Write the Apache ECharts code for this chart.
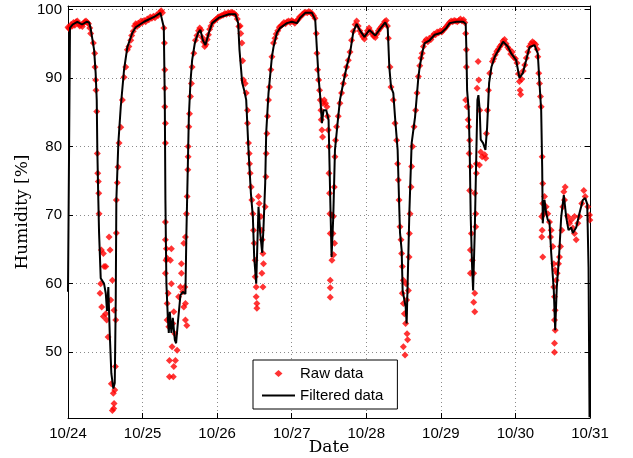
<!DOCTYPE html>
<html><head><meta charset="utf-8">
<script src="https://cdn.jsdelivr.net/npm/echarts@6/dist/echarts.min.js"></script>
<style>html,body{margin:0;padding:0;background:#fff}#c{width:633px;height:458px}</style>
</head><body><div id="c"></div>
<script>
// x values are hours since 10/24 00:00
const dateLabels = ['10/24','10/25','10/26','10/27','10/28','10/29','10/30','10/31'];
const yTickLabels = ['50','60','70','80','90','100'];

const rawData = [
[0,97.4],[0.3,97.2],[0.7,97.5],[1,97.8],[1.4,97.6],[1.8,98.1],[2.2,97.7],[2.6,98.2],[3,98.3],[3.4,97.9],[3.8,97.6],[4.2,97.8],[4.6,97.5],[5,98],[5.4,98.2],[5.8,98.3],[6.2,98.1],[6.6,97.9],[7,97.3],
[7.31,96.5],[8.16,95.1],[8.6,93.6],[8.7,91.6],[8.92,89.7],[9.02,88.2],[9.25,85.1],[9.44,79],[9.57,76.1],[9.76,74.9],[9.89,73.2],[9.99,70.2],
[10.74,64.9],[11.38,64.4],[13.21,66.8],[13.53,64.9],[11.6,62.5],[10.53,60],[12.15,62.5],[10.31,58.6],[10.85,56.6],[12.15,55.6],[11.38,55.2],[12.46,54.7],[13.75,57.6],[14.28,60.5],[15.37,54.7],[14.82,56.1],[12.89,52.2],[13.95,45.4],[14.59,44],[14.82,42.5],[14.28,41.5],[15.05,44.5],[15.24,47.9],[14.7,41.8],
[15.56,67.4],[15.56,72.2],[15.88,74.7],[16.1,77],[16.43,80.5],[16.98,82.8],[17.5,86.8],[18.04,90.1],[18.58,91.6],[19.1,94.1],[19.6,94.6],[20.19,95.5],
[20.5,96.2],[21,96.8],[21.4,97.6],[21.8,97.9],[22.2,97.5],[22.6,98],[23,97.8],[23.5,98.3],[24,98.1],[24.5,98.4],[25,98.2],[25.5,98.6],[26,98.5],[26.5,98.9],[27,98.7],[27.5,99],[28,98.8],[28.5,99.2],[29,99.1],[29.5,99.6],[30,99.8],[30.4,99.5],
[30.83,97.3],[31.03,95.1],[31.15,91.2],[31.15,88.5],[31.15,85.8],[31.35,83.4],[31.35,80.5],[31.35,69],[31.35,66.4],[31.67,65.1],[31.9,63.7],[31.35,61.5],[33.28,65.1],[32.96,63.4],[33.28,60],[32.22,58.6],[31.9,57.1],[31.9,54.7],[32.44,53.7],[34.05,55.9],[33.73,54.2],[34.38,52.7],[33.5,50.8],[32.64,48.8],[35.12,50.3],[34.57,48.8],[34.05,47.9],[32.64,46.4],[33.9,46.4],[35.6,58.1],[36.18,59.5],[36.5,61.5],[36.95,58.8],[37.6,59.5],[37.8,57.1],[37.27,56.6],[37.8,54.7],[38.24,53.9],[37.27,65.9],[37.8,66.8],[36.5,62.9],[31.57,63.4],
[38.11,70.2],[38.34,72.7],[38.56,76.6],[38.66,78.5],[38.66,80],[38.89,82.9],[39.1,84.8],[39.4,87.3],[39.73,89.2],[39.95,91.6],[40.5,93.6],[41.01,95.5],
[41.5,96.2],[42,96.9],[42.4,97.3],[42.8,97],[43.2,95.9],[43.6,95.3],[44,94.6],[44.4,94.9],[44.8,95.6],[45.2,96.3],[45.6,97.1],[46,97.6],[46.5,98.1],[47,98.3],[47.5,98.5],[48,98.7],[48.5,98.9],[49,99],[49.5,99.1],[50,99.2],[50.5,99.4],[51,99.3],[51.5,99.5],[52,99.4],[52.5,99.6],[53,99.5],[53.5,99.4],[54,99.2],[54.5,98.6],[55,97.5],
[55.4,97.6],[55.6,96.5],[55.96,95.1],[56.2,92.5],[56.48,89.7],[57.02,89.2],[57.35,87.8],[57.77,85.3],[57.77,83.4],[58.09,80.5],[58.31,79],[58.41,77.5],[58.63,76.1],[58.96,74.1],[59.18,72.2],[59.5,70.2],[59.7,67.8],[59.92,65.9],[60.24,63.4],[60.24,61],[60.57,59.5],[60.57,58.1],[60.79,57.1],[60.79,56.4],[61.31,72.7],[61.53,71.7],[62.08,69.8],[62.28,67.8],[62.5,66.4],[62.73,64.4],[62.92,62.9],[62.73,59.5],[62.4,61.5],
[63.47,71.2],[63.69,75.6],[63.79,79],[64.01,81.9],[64.2,84.4],[64.53,86.8],[64.85,88.7],[65.3,91.2],[65.63,93.1],[66.14,95.1],
[66.6,95.8],[67,96.4],[67.5,96.9],[68,97.4],[68.5,97.6],[69,97.8],[69.5,98.1],[70,97.9],[70.5,98.2],[71,98.3],[71.5,98.1],[72,98.4],[72.5,98.2],[73,98],[73.5,98.3],[74,98.5],[74.5,98.9],[75,99],[75.5,99.3],[76,99.5],[76.5,99.6],[77,99.5],[77.5,99.7],[78,99.6],[78.5,99.4],[79,99.1],[79.5,98.7],
[79.9,96.5],[80.12,93.6],[80.33,91.2],[80.64,89.7],[80.97,88.2],[81.19,86.8],[81.4,85.3],[81.5,83.9],[81.73,82.4],[81.93,81.4],[82.04,86.3],[82.47,86.8],[82.9,86.3],[83.34,85.8],[83.54,84.4],[83.76,82.4],[83.99,80],[83.99,76.1],[84.18,73.2],[84.31,70.2],[84.41,67.3],[84.95,70],[85.27,67.3],[85.8,65.9],[85.48,64.2],[84.95,63.4],[84.41,60.5],[84.41,59.4],[84.41,58],
[85.37,69.8],[85.7,74.1],[85.92,78.5],[86.12,80.9],[86.44,82.9],[86.98,84.4],[87.53,86.3],[88.05,87.8],[88.6,89.2],[89.14,90.4],[89.66,91.6],[90.21,92.6],[90.75,93.8],[91.27,95.5],[91.82,96.8],
[92.4,97.8],[92.9,98.3],[93.4,97.6],[93.9,96.9],[94.4,96.4],[94.9,96],[95.4,95.7],[95.9,96.3],[96.4,96.9],[96.9,97.3],[97.4,96.8],[97.9,96.4],[98.4,96.1],[98.9,95.9],[99.4,96.4],[99.9,96.9],[100.4,97.2],[100.9,97.5],[101.4,97.8],[101.9,98.2],[102.4,98.4],[102.8,97.6],[103.1,95.8],
[103.63,91.6],[103.96,88.7],[104.7,86.8],[105.25,83.4],[105.77,80.9],[106.09,77.5],[106.31,75.1],[106.54,72.2],[106.86,68.3],[107.18,66.4],[107.38,64.4],[107.6,62.5],[107.93,60.5],[107.6,58.6],[107.93,57.1],[108.25,55.6],[108.8,60],[108.99,57.6],[108.67,54.2],[109.12,52.7],[109.31,51.8],[108.47,49.6],[107.93,50.8],
[109.54,59],[109.76,63.9],[109.86,67.3],[110.08,70.2],[110.41,74.1],[110.6,77.1],[110.92,80],[111.37,82.9],[111.89,85.3],[112.34,87.8],[112.76,90.2],
[113.2,91.8],[113.6,92.9],[114,93.6],[114.4,94.6],[114.8,95.3],[115.3,95.6],[115.8,95.3],[116.3,95.8],[116.8,95.6],[117.3,96.1],[117.8,96.4],[118.3,96.3],[118.8,96.7],[119.3,96.6],[119.8,96.9],[120.3,96.7],[120.8,97],[121.3,97.2],[121.8,97.5],[122.3,97.8],[122.8,98.1],[123.3,98.3],[123.8,98.2],[124.3,98.4],[124.8,98.3],[125.3,98.2],[125.8,98.4],[126.3,98.6],[126.8,98.3],[127.3,98.5],[127.7,98.1],
[128,96.5],[128.22,94.1],[128.22,91.6],[128,86.8],[128.45,85.8],[128.77,83.9],[128.96,82.9],[129.28,80.9],[129.09,79],[129.51,77.1],[129.28,73.6],[130.9,73.2],[131.22,70.2],[129.83,67.3],[129.51,64.9],[130.15,63.4],[129.51,61.5],[130.57,61.5],[130.9,58.6],[130.57,57.3],[130.9,55.9],[131.22,68.3],[131.44,76.1],
[132,92.4],[132.19,89.7],[131.67,88.5],[132.51,85.3],[132.83,79.2],[131.44,77.5],[132.41,77.3],[133.28,78.5],[134.12,78.8],[134.44,78.3],[134.66,81.9],[134.99,85.3],[135.31,88.2],[135.73,90.7],[136.6,92.4],
[137,92.8],[137.5,93.4],[138,93.9],[138.5,94.2],[139,94.6],[139.5,94.9],[140,95.4],[140.5,95.6],[141,95],[141.5,94.5],[142,94.2],[142.5,93.5],[143,93.8],[143.5,93],[144,92.8],[144.5,92.2],[145,90.6],[145.3,89.5],[145.5,88.2],[145.7,87.6],[146,89.8],[146.5,91],[147,91.9],[147.5,92.9],[148,93.8],[148.5,94.6],[149,95],[149.5,95.3],[150,95.1],[150.5,94.9],[151,94.2],
[151.2,93.1],[151.5,90.7],[151.74,89.2],[152.06,87.3],[152.29,85.8],[152.61,78.5],[152.8,74.6],[153.35,72.7],[152.8,71.7],[152.48,69.8],[153.12,70.2],[152.61,67.8],[152.48,66.8],[152.8,63.9],[153.9,71.2],[154.41,70.2],[154.96,69],[155.51,67.8],[155.28,66.8],[156.03,65.4],[156.35,62.9],[156.8,62],[157.12,60.5],[156.35,59.5],[156.57,58.1],[156.8,56.1],[156.57,54.7],[156.8,53.2],[156.57,51.3],[156.57,50],
[157.44,61.5],[157.86,62.9],[158.18,63.9],[158.5,65.4],[158.92,67.8],[159.25,71.2],[159.57,73.4],[160.01,74.1],[159.79,72.2],[160.86,69.8],[161.4,68.8],[161.95,69.3],[162.47,68.1],[163.02,67.3],[163.56,66.4],[163.02,69.8],[164.08,68.8],[164.63,69.8],[165.37,71.7],[166.01,73.6],[166.46,72.7],[167.3,71.2],[167.85,70],[167.95,69.3]
];

const filteredData = [
[0,58.8],[0.64,97.3],[1.5,97.8],[3,98.2],[4.5,97.8],[6,98.2],[6.8,98.1],[7.3,97.2],[8.4,94.1],[8.9,90.7],[9.25,86.8],[9.44,79.5],[9.76,72.2],[10,67.4],[10.53,60.8],[11.6,60],[12.15,58.6],[12.56,56],[12.98,59.5],[13.43,52.8],[13.95,46.9],[14.59,44.7],[15.05,45.5],[15.37,57.6],[15.56,72.2],[16.2,80.5],[16.98,85.8],[18.04,91.2],[19.1,94.5],[20.71,96.6],[21.81,97.4],[24.48,98.2],[27.71,98.9],[29.74,99.5],[30.28,99.6],
[30.83,97.4],[31.15,86.8],[31.35,72.2],[31.67,60],[32.12,55.1],[32.44,52.8],[32.76,55.9],[33.28,52.8],[33.73,55],[34.38,51.8],[34.79,51.3],[35.44,54.7],[36.18,58.3],[36.95,58.8],[37.79,58.5],[38.11,67.4],[38.56,77],[38.89,84.3],[39.4,89.3],[39.95,92.6],[40.82,95.1],[41.88,96.6],[42.62,97],[43.4,95.5],[44.23,94.8],[45.33,96.6],[46.39,98],[48.55,98.8],[51.77,99.3],[53.9,99.3],
[54.77,98],[55.19,94.1],[56.06,89.3],[56.7,88.2],[57.35,86.8],[58.09,79.5],[58.86,73.2],[59.5,69.7],[59.92,63.9],[60.57,60],[60.99,66.4],[61.31,71.2],[61.86,67.4],[62.5,64.5],[62.92,68.2],[63.47,74.7],[63.79,82],[64.53,87.8],[65.63,93.1],[66.14,94.5],[67.24,96.6],[68.3,97.3],[70.46,98],[72.07,98.2],[73.68,98],[74.74,98.8],[76.35,99.5],[78.51,99.5],
[79.57,98.5],[80.12,94.1],[80.64,90.1],[81.19,87.2],[81.73,83.4],[82.25,85.3],[83.12,85.3],[83.86,83.9],[84.41,72.2],[84.83,63.9],[85.37,69.7],[85.92,79.5],[86.76,83.4],[87.53,86.8],[88.6,89.3],[89.66,91.6],[90.75,93.6],[91.82,96.7],[92.9,97.9],[94,96.9],[95.4,96],[97,97],[98.9,96.2],[100.5,97.2],[102.1,98.1],[102.9,97.3],
[103.41,91.6],[103.96,88.7],[104.7,87.8],[105.25,84.3],[106.09,79.5],[106.54,72.2],[106.86,67.4],[107.38,64.9],[107.7,59],[108.25,58.8],[108.67,56.6],[108.99,54.2],[109.31,60],[109.86,70.3],[110.6,80.5],[111.69,84.3],[112.76,90.1],[113.18,91.6],[114.05,93.8],[114.79,95.1],[116.4,95.5],[118.01,96.3],[120.17,96.6],[121.78,97.3],[122.84,98],[125,98.2],[127.16,98.2],
[128,97.9],[128.22,94.1],[128.45,88.2],[128.96,85.3],[129.28,79.5],[129.61,69.7],[130.06,62.4],[130.38,59],[130.9,67.4],[131.44,79.5],[131.77,86.8],[132.09,87.5],[132.51,85.3],[132.83,81],[133.6,80.5],[134.34,79.5],[134.89,82.8],[135.53,89.3],[136.28,91.6],[137.34,93.1],[138.95,94.4],[140.04,95.3],[141.53,94.6],[142.62,93.6],[144.23,92.6],[145.3,90],[146.36,90.7],[147.45,92.6],[148.52,94.5],[150.13,94.8],[151.19,93.6],
[151.74,89.3],[152.29,85.3],[152.61,77],[152.8,68.8],[153.35,72.2],[153.9,70.3],[154.41,69.3],[154.96,69],[155.51,64.5],[156.35,59],[156.8,53.2],[157.31,59.5],[157.96,63.4],[158.73,69.7],[159.57,72.9],[160.34,69.7],[161.08,67.8],[161.95,68.2],[162.47,67.4],[163.56,68.2],[164.63,70.3],[165.69,72.2],[166.46,72.5],[167.11,71.6],[167.53,62.4],[167.85,40.5]
];

const chart = echarts.init(document.getElementById('c'));
const black = '#000';
const tickFont = {fontFamily:'Liberation Sans, Arial, sans-serif', fontSize:15, color:black};
const nameFont = {fontFamily:'DejaVu Serif, serif', fontSize:17, color:black};
const grid = {color:'#8a8a8a', width:1, type:[1,3]};
function isMajorY(v){ return Math.abs(v-Math.round(v))<1e-6 && yTickLabels.indexOf(String(Math.round(v))) >= 0; }
// legend icons: a small diamond and a thin line, drawn inside a 33x7 box
const diamondIcon = 'path://M0 3.5L0 3.5Z M33 3.5L33 3.5Z M16.5 0L20.5 3.5L16.5 7L12.5 3.5Z';
const lineIcon = 'path://M0 2.5L33 2.5L33 4.5L0 4.5Z';

chart.setOption({
  animation:false,
  backgroundColor:'#fff',
  grid:{left:68, right:43, top:6, bottom:40, containLabel:false, outerBoundsMode:'none'},
  xAxis:[{
    type:'value', min:0, max:168, interval:24, position:'bottom',
    name:'Date', nameLocation:'middle', nameGap:21, nameMoveOverlap:false, nameTextStyle:nameFont,
    axisLine:{show:true, onZero:false, lineStyle:{color:black, width:1}},
    axisTick:{show:true, inside:true, length:5, lineStyle:{color:black}},
    axisLabel:{...tickFont, margin:8, formatter:v=>dateLabels[Math.round(v/24)]},
    splitLine:{show:true, lineStyle:grid}
  },{
    type:'value', min:0, max:168, interval:24, position:'top',
    axisLine:{show:true, onZero:false, lineStyle:{color:black, width:1}},
    axisTick:{show:true, inside:true, length:5, lineStyle:{color:black}},
    axisLabel:{show:false}, splitLine:{show:false}
  }],
  yAxis:[{
    type:'value', min:40.4, max:100.5, splitNumber:6, position:'left',
    name:'Humidity [%]', nameLocation:'middle', nameGap:37, nameMoveOverlap:false, nameTextStyle:nameFont,
    axisLine:{show:true, onZero:false, lineStyle:{color:black, width:1}},
    axisTick:{show:true, inside:true, length:5, lineStyle:{color:black}},
    axisLabel:{...tickFont, margin:6, formatter:v=>isMajorY(v)?String(Math.round(v)):''},
    splitLine:{show:true, lineStyle:grid}
  },{
    type:'value', min:40.4, max:100.5, splitNumber:6, position:'right',
    axisLine:{show:true, onZero:false, lineStyle:{color:black, width:1}},
    axisTick:{show:true, inside:true, length:5, lineStyle:{color:black}},
    axisLabel:{show:false}, splitLine:{show:false}
  }],
  legend:{
    orient:'vertical', left:253, top:360,
    padding:[6,14,6,9], itemWidth:33, itemHeight:7, itemGap:7,
    borderColor:black, borderWidth:1, backgroundColor:'#fff',
    textStyle:{fontFamily:'Liberation Sans, Arial, sans-serif', fontSize:15, color:black},
    data:[
      {name:'Raw data', icon:diamondIcon, itemStyle:{color:'#ff0000', borderWidth:0}},
      {name:'Filtered data', icon:lineIcon, itemStyle:{color:black, borderWidth:0}, lineStyle:{width:0}}
    ]
  },
  series:[{
    name:'Raw data', type:'scatter', data:rawData, symbol:'diamond', symbolSize:7,
    itemStyle:{color:'#ff0000'}, z:2, clip:true
  },{
    name:'Filtered data', type:'line', data:filteredData, symbol:'none', showSymbol:false,
    lineStyle:{color:black, width:2}, itemStyle:{color:black}, z:3, clip:true
  }]
});
</script></body></html>
